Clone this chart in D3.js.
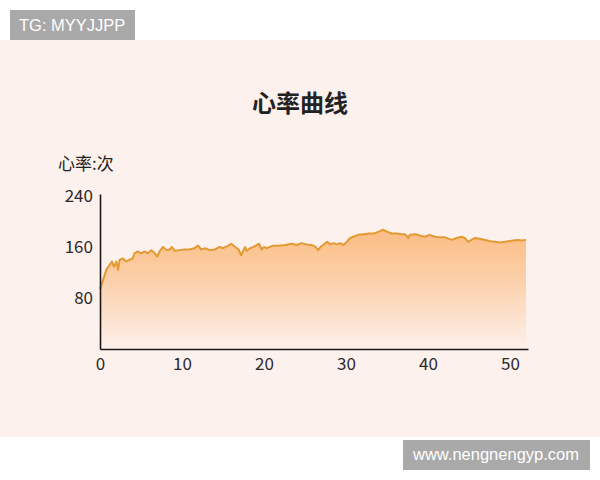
<!DOCTYPE html>
<html>
<head>
<meta charset="utf-8">
<style>
  body { margin: 0; background: #fff; }
  svg { display: block; }
</style>
<title>心率曲线</title>
</head>
<body>
<div id="chart"></div>
<script src="https://d3js.org/d3.v7.min.js"></script>
<script>
// time in minutes (x) and heart rate (beats/min)
var minutes = [0, 0.37, 0.77, 1.18, 1.46, 1.7, 2.0, 2.2, 2.4, 2.8, 3.2, 3.6, 4.0, 4.2, 4.6, 5.0, 5.45, 5.85,
  6.26, 6.67, 7.0, 7.27, 7.68, 8.1, 8.5, 8.78, 9.1, 9.7, 10.3, 10.9, 11.5, 11.95, 12.35, 12.8, 13.4, 14.0,
  14.6, 15.0, 15.65, 16.0, 16.5, 16.9, 17.2, 17.5, 17.7, 17.9, 18.3, 18.7, 19.1, 19.4, 19.7, 20.0, 20.3,
  20.7, 21.1, 21.7, 22.6, 23.4, 24.0, 24.6, 25.2, 25.85, 26.3, 26.6, 26.9, 27.3, 27.7, 28.1, 28.5, 28.9,
  29.3, 29.7, 30.1, 30.5, 30.9, 31.5, 32.2, 32.8, 33.4, 34.0, 34.5, 35.0, 35.6, 36.2, 36.8, 37.2, 37.6,
  37.8, 38.5, 39.0, 39.6, 40.2, 40.85, 41.5, 42.1, 42.5, 42.9, 43.5, 44.1, 44.5, 44.9, 45.3, 45.7, 46.3,
  47.0, 47.6, 48.2, 48.8, 49.4, 49.8, 50.4, 51.0, 51.4, 51.95];
var heartRate = [94, 108, 124, 132, 137, 129, 137, 124, 140, 142, 137, 140, 142, 150, 153, 150, 153, 150,
  155, 150, 145, 153, 160, 155, 156, 160, 154, 155, 156, 156, 158, 162, 156, 158, 155, 156,
  160, 158, 162, 165, 160, 156, 147, 155, 160, 154, 158, 160, 163, 165, 156, 160, 158,
  160, 162, 162, 163, 165, 163, 166, 164, 163, 160, 155, 160, 164, 168, 164, 166, 164,
  166, 163, 168, 174, 176, 179, 180, 181, 181, 184, 187, 184, 181, 181, 180, 180, 174,
  179, 180, 178, 176, 179, 176, 175, 175, 173, 171, 174, 176, 174, 168, 171, 174, 173,
  171, 169, 168, 167, 168, 169, 170, 171, 170, 171];
var xTicks = [0, 10, 20, 30, 40, 50];
var yTicks = [80, 160, 240];
var titleText = "心率曲线";
var yLabel = "心率:次";

var W = 600, H = 480;
var data = minutes.map(function(m, i) { return { t: m, v: heartRate[i] }; });

var svg = d3.select("#chart").append("svg")
  .attr("width", W)
  .attr("height", H);

// page background
svg.append("rect").attr("x", 0).attr("y", 40).attr("width", W).attr("height", 397).attr("fill", "#fdf1ee");

var x = d3.scaleLinear().domain([0, 52.2]).range([100, 528]);
var y = d3.scaleLinear().domain([0, 243]).range([349, 194]);

// gradient under the curve
var defs = svg.append("defs");
var grad = defs.append("linearGradient")
  .attr("id", "fillGrad")
  .attr("gradientUnits", "userSpaceOnUse")
  .attr("x1", 0).attr("x2", 0)
  .attr("y1", y(185)).attr("y2", y(0));
grad.append("stop").attr("offset", "0%").attr("stop-color", "#fbbd84");
grad.append("stop").attr("offset", "45%").attr("stop-color", "#fcd2ad");
grad.append("stop").attr("offset", "100%").attr("stop-color", "#fdf0eb");

svg.append("path")
  .datum(data)
  .attr("fill", "url(#fillGrad)")
  .attr("d", d3.area()
    .x(function(d) { return x(d.t); })
    .y0(y(0))
    .y1(function(d) { return y(d.v); }));

svg.append("path")
  .datum(data)
  .attr("fill", "none")
  .attr("stroke", "#e39a33")
  .attr("stroke-width", 2)
  .attr("stroke-linejoin", "round")
  .attr("d", d3.line()
    .x(function(d) { return x(d.t); })
    .y(function(d) { return y(d.v); }));

// axes
var font = "'Noto Sans CJK SC', 'Noto Sans', sans-serif";
var gx = svg.append("g")
  .attr("transform", "translate(0," + y(0) + ")")
  .call(d3.axisBottom(x).tickValues(xTicks).tickSize(0).tickPadding(9));
var gy = svg.append("g")
  .attr("transform", "translate(" + x(0) + ",0)")
  .call(d3.axisLeft(y).tickValues(yTicks).tickSize(0).tickPadding(7));
[gx, gy].forEach(function(g) {
  g.select(".domain").attr("stroke", "#1a1a1a").attr("stroke-width", 1.6);
  g.selectAll("text").attr("fill", "#2a2a2a").style("font-family", font).style("font-size", "17px");
});

// titles
svg.append("text")
  .attr("x", 300).attr("y", 112)
  .attr("text-anchor", "middle")
  .style("font-family", font).style("font-size", "24px").style("font-weight", "bold")
  .attr("fill", "#222")
  .text(titleText);
svg.append("text")
  .attr("x", 58).attr("y", 170)
  .style("font-family", font).style("font-size", "17px")
  .attr("fill", "#222")
  .text(yLabel);

// watermark badges
svg.append("rect").attr("x", 10).attr("y", 10).attr("width", 125).attr("height", 30).attr("fill", "#a9a9a9");
svg.append("text").attr("x", 19).attr("y", 31)
  .style("font-family", "'Liberation Sans', Arial, sans-serif").style("font-size", "16.5px")
  .attr("fill", "#fff").text("TG: MYYJJPP");
svg.append("rect").attr("x", 403).attr("y", 440).attr("width", 187).attr("height", 30).attr("fill", "#a9a9a9");
svg.append("text").attr("x", 496).attr("y", 460).attr("text-anchor", "middle")
  .style("font-family", "'Liberation Sans', Arial, sans-serif").style("font-size", "16.5px")
  .attr("fill", "#fff").text("www.nengnengyp.com");
</script>
</body>
</html>
